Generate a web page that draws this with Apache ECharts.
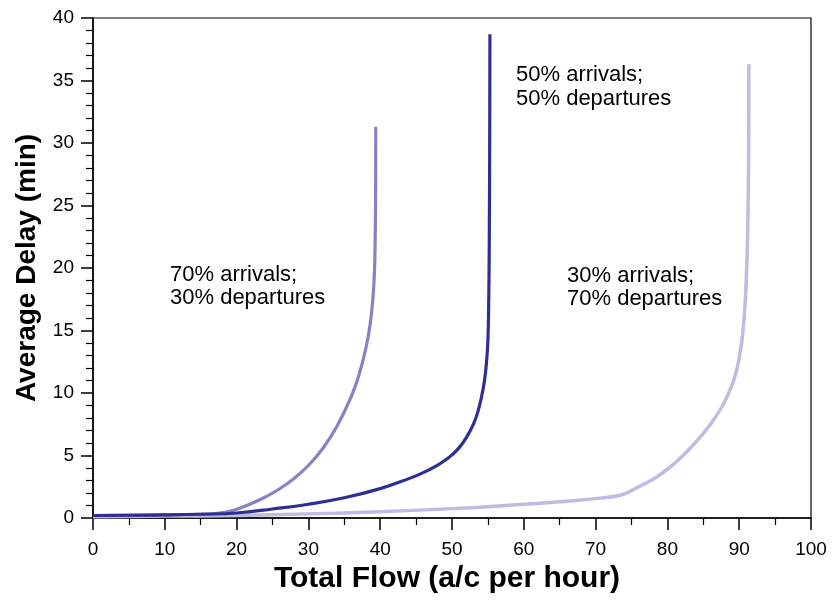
<!DOCTYPE html>
<html>
<head>
<meta charset="utf-8">
<script src="https://cdn.jsdelivr.net/npm/echarts@6/dist/echarts.min.js"></script>
<style>
html,body{margin:0;padding:0;background:#fff;}
#chart{width:833px;height:601px;}
</style>
</head>
<body>
<div id="chart"></div>
<script>
// Series: 70% arrivals / 30% departures
var flow70 = [0, 5, 10, 15, 17, 18.5, 20, 22, 24, 26, 28, 30, 32, 34, 36, 37, 38, 38.6, 39.0, 39.2, 39.3, 39.36, 39.38];
var delay70 = [0.2, 0.22, 0.25, 0.3, 0.36, 0.48, 0.7, 1.14, 1.68, 2.34, 3.16, 4.2, 5.56, 7.36, 9.76, 11.36, 13.56, 15.5, 17.7, 19.7, 22.3, 26, 31.3];
// Series: 50% arrivals / 50% departures
var flow50 = [0, 10, 15, 20, 25, 30, 35, 40, 44, 46, 48, 49, 50, 51, 52, 53, 53.6, 54.1, 54.5, 54.8, 55.0, 55.12, 55.2, 55.25, 55.28];
var delay50 = [0.2, 0.25, 0.3, 0.4, 0.72, 1.1, 1.62, 2.35, 3.15, 3.63, 4.23, 4.6, 5.05, 5.63, 6.43, 7.53, 8.5, 9.65, 10.9, 12.4, 14.2, 17.5, 23, 30, 38.7];
// Series: 30% arrivals / 70% departures
var flow30 = [0, 10, 20, 30, 40, 50, 60, 65, 70, 73.7, 76, 78, 80, 82, 84, 86, 87.6, 88.6, 89.4, 90, 90.5, 90.9, 91.15, 91.3, 91.35];
var delay30 = [0.1, 0.15, 0.2, 0.33, 0.5, 0.75, 1.1, 1.3, 1.55, 1.86, 2.5, 3.1, 3.9, 4.9, 6.1, 7.5, 8.9, 10.1, 11.3, 12.8, 14.8, 18, 22.2, 28, 36.3];

var xTicks = [0, 10, 20, 30, 40, 50, 60, 70, 80, 90, 100];
var yTicks = [0, 5, 10, 15, 20, 25, 30, 35, 40];

var labelA = "70% arrivals;\n30% departures";
var labelB = "50% arrivals;\n50% departures";
var labelC = "30% arrivals;\n70% departures";

function zip(xs, ys) { return xs.map(function (x, i) { return [x, ys[i]]; }); }

var chart = echarts.init(document.getElementById('chart'), null, {renderer: 'canvas'});
var font = '"Liberation Sans", Arial, Helvetica, sans-serif';

function lineSeries(name, data, color, width) {
  return {
    name: name, type: 'line', data: data, showSymbol: false, symbol: 'none',
    smooth: 0.45,
    lineStyle: {color: color, width: width}, animation: false
  };
}

chart.setOption({
  animation: false,
  backgroundColor: '#fff',
  grid: {left: 93, right: 22, top: 18, bottom: 83, show: true, borderColor: '#000', borderWidth: 1.2, backgroundColor: 'transparent'},
  xAxis: {
    type: 'value', min: xTicks[0], max: xTicks[xTicks.length - 1], interval: 10,
    name: 'Total Flow (a/c per hour)', nameLocation: 'middle', nameGap: 46,
    nameTextStyle: {fontFamily: font, fontWeight: 'bold', fontSize: 30, color: '#000', padding: [0, 10, 0, 0]},
    axisLine: {show: true, onZero: false, lineStyle: {color: '#000', width: 1.5}},
    axisTick: {show: true, inside: false, length: 12, lineStyle: {color: '#000', width: 1.5}},
    minorTick: {show: true, splitNumber: 2, length: 7, lineStyle: {color: '#000', width: 1.2}},
    axisLabel: {fontFamily: font, fontSize: 19, color: '#000', margin: 22},
    splitLine: {show: false}
  },
  yAxis: {
    type: 'value', min: yTicks[0], max: yTicks[yTicks.length - 1], interval: 5,
    name: 'Average Delay (min)', nameLocation: 'middle', nameGap: 52,
    nameTextStyle: {fontFamily: font, fontWeight: 'bold', fontSize: 28, color: '#000'},
    axisLine: {show: true, onZero: false, lineStyle: {color: '#000', width: 1.5}},
    axisTick: {show: true, inside: false, length: 12, lineStyle: {color: '#000', width: 1.5}},
    minorTick: {show: true, splitNumber: 5, length: 7, lineStyle: {color: '#000', width: 1.2}},
    axisLabel: {fontFamily: font, fontSize: 19, color: '#000', margin: 19},
    splitLine: {show: false}
  },
  series: [
    lineSeries('30% arrivals; 70% departures', zip(flow30, delay30), '#bfbbe2', 3.5),
    lineSeries('70% arrivals; 30% departures', zip(flow70, delay70), '#8882c4', 3.2),
    lineSeries('50% arrivals; 50% departures', zip(flow50, delay50), '#2e2f94', 3.2)
  ],
  graphic: [
    {type: 'text', left: 170, top: 263, style: {text: labelA, font: '22px ' + font, fill: '#000', lineHeight: 23}},
    {type: 'text', left: 516, top: 63, style: {text: labelB, font: '22px ' + font, fill: '#000', lineHeight: 24}},
    {type: 'text', left: 567, top: 264, style: {text: labelC, font: '22px ' + font, fill: '#000', lineHeight: 23}}
  ]
});
</script>
</body>
</html>
